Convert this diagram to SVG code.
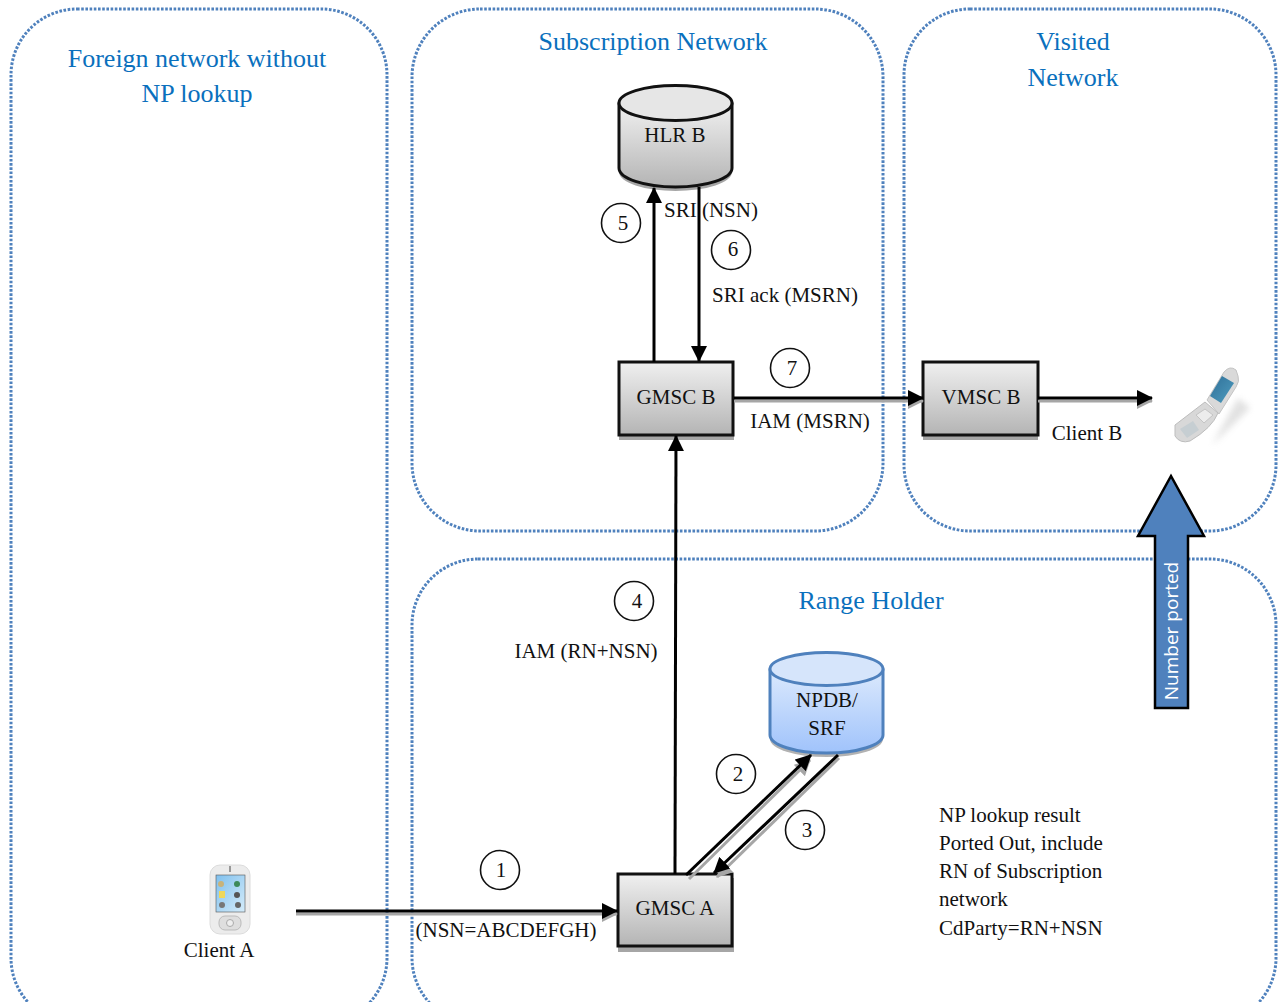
<svg xmlns="http://www.w3.org/2000/svg" width="1280" height="1002" viewBox="0 0 1280 1002">
<style>
text{font-family:"Liberation Serif","Times New Roman",serif;font-size:21px;fill:#111;text-anchor:middle}
.lbl{text-anchor:start}
.title{font-size:26px;fill:#0a70bd}
.n{font-size:21px}
.region{fill:none;stroke:#4f81bd;stroke-width:3;stroke-dasharray:2.6 1.6}
.box{fill:url(#gray);stroke:#111;stroke-width:3}
.wire{fill:none;stroke:#000;stroke-width:3}
.shade{fill:none;stroke:#a6a6a6;stroke-width:3}
.circ{fill:#fff;stroke:#111;stroke-width:1.6}
</style>
<defs>
<linearGradient id="gray" x1="0" y1="0" x2="0" y2="1"><stop offset="0" stop-color="#f0f0f0"/><stop offset="1" stop-color="#b4b4b4"/></linearGradient>
<linearGradient id="blue" x1="0" y1="0" x2="0" y2="1"><stop offset="0" stop-color="#dbe9fd"/><stop offset="1" stop-color="#a0c3fb"/></linearGradient>
<linearGradient id="sky" x1="0" y1="0" x2="1" y2="1"><stop offset="0" stop-color="#7fc0ee"/><stop offset="1" stop-color="#d5ecfa"/></linearGradient>
<linearGradient id="screen" x1="0" y1="0" x2="1" y2="1"><stop offset="0" stop-color="#2f6f98"/><stop offset="1" stop-color="#4f9dbf"/></linearGradient>
<filter id="soft" x="-30%" y="-30%" width="160%" height="160%"><feGaussianBlur stdDeviation="3"/></filter>
<marker id="ah" viewBox="0 0 16 16" markerUnits="userSpaceOnUse" markerWidth="16" markerHeight="16" refX="15" refY="8" orient="auto"><path d="M0 0L16 8L0 16Z" fill="#000"/></marker>
<marker id="as" viewBox="0 0 16 16" markerUnits="userSpaceOnUse" markerWidth="16" markerHeight="16" refX="15" refY="8" orient="auto"><path d="M0 0L16 8L0 16Z" fill="#a6a6a6"/></marker>
</defs>

<g id="regions">
<rect id="foreign" class="region" x="11" y="9" width="376" height="1015" rx="66" ry="66"/>
<rect id="subscription" class="region" x="412" y="9" width="471" height="522" rx="68" ry="68"/>
<rect id="visited" class="region" x="904" y="9" width="372" height="522" rx="66" ry="66"/>
<rect id="range" class="region" x="412" y="559" width="864" height="465" rx="66" ry="66"/>
</g>
<g id="region-labels">
<text class="title" x="197" y="67">Foreign network without</text>
<text class="title" x="197" y="102">NP lookup</text>
<text class="title" x="653" y="50">Subscription Network</text>
<text class="title" x="1073" y="50">Visited</text>
<text class="title" x="1073" y="86">Network</text>
<text class="title" x="871" y="609">Range Holder</text>
</g>

<g id="hlr">
<path d="M619 104V168A56.500 19 0 0 0 732 168V104Z" fill="#000" opacity=".35" transform="translate(0 4)"/>
<path d="M619 104V168A56.500 19 0 0 0 732 168V104Z" fill="url(#gray)" stroke="#111" stroke-width="3"/>
<ellipse cx="675.500" cy="103" rx="56.500" ry="17.500" fill="#e6e6e6" stroke="#111" stroke-width="3"/>
<text x="675" y="142">HLR B</text>
</g>
<g id="npdb">
<path d="M770 670V735A56.500 18 0 0 0 883 735V670Z" fill="#000" opacity=".3" transform="translate(0 4)"/>
<path d="M770 670V735A56.500 18 0 0 0 883 735V670Z" fill="url(#blue)" stroke="#4f81bd" stroke-width="3"/>
<ellipse cx="826.500" cy="669" rx="56.500" ry="16.500" fill="#d6e5fb" stroke="#4f81bd" stroke-width="3"/>
<text x="827" y="707">NPDB/</text>
<text x="827" y="735">SRF</text>
</g>
<g id="gmsc-b">
<rect x="619" y="366" width="115" height="74" fill="#a6a6a6"/>
<rect class="box" x="619" y="362" width="114" height="73"/>
<text x="676" y="404">GMSC B</text>
</g>
<g id="vmsc-b">
<rect x="923" y="366" width="115" height="74" fill="#a6a6a6"/>
<rect class="box" x="923" y="362" width="115" height="73"/>
<text x="981" y="404">VMSC B</text>
</g>
<g id="gmsc-a">
<rect x="618" y="878" width="116" height="74" fill="#a6a6a6"/>
<rect class="box" x="618" y="874" width="114" height="72"/>
<text x="675" y="915">GMSC A</text>
</g>

<g id="connectors">
<path class="shade" d="M296 914H617" marker-end="url(#as)"/>
<path class="wire" d="M296 911H617" marker-end="url(#ah)"/>
<path class="wire" d="M675 874L676 436" marker-end="url(#ah)"/>
<path class="shade" d="M689 879L810 760" marker-end="url(#as)"/>
<path class="wire" d="M686 875L811 755" marker-end="url(#ah)"/>
<path class="shade" d="M839 758L717 877" marker-end="url(#as)"/>
<path class="wire" d="M838 755L714 873" marker-end="url(#ah)"/>
<path class="wire" d="M654 362V188" marker-end="url(#ah)"/>
<path class="wire" d="M699 187V361" marker-end="url(#ah)"/>
<path class="shade" d="M734 401H923" marker-end="url(#as)"/>
<path class="wire" d="M734 398H923" marker-end="url(#ah)"/>
<path class="shade" d="M1038 401H1152" marker-end="url(#as)"/>
<path class="wire" d="M1038 398H1152" marker-end="url(#ah)"/>
</g>

<g id="step-1"><circle class="circ" cx="500" cy="870" r="19.500"/><text class="n" x="501" y="877">1</text></g>
<g id="step-2"><circle class="circ" cx="736" cy="774" r="19.500"/><text class="n" x="738" y="781">2</text></g>
<g id="step-3"><circle class="circ" cx="805" cy="830" r="19.500"/><text class="n" x="807" y="837">3</text></g>
<g id="step-4"><circle class="circ" cx="634" cy="601" r="19.500"/><text class="n" x="637" y="608">4</text></g>
<g id="step-5"><circle class="circ" cx="621" cy="223" r="19.500"/><text class="n" x="623" y="230">5</text></g>
<g id="step-6"><circle class="circ" cx="731" cy="250" r="19.500"/><text class="n" x="733" y="256">6</text></g>
<g id="step-7"><circle class="circ" cx="790" cy="368" r="19.500"/><text class="n" x="792" y="375">7</text></g>

<g id="labels">
<text x="506" y="937">(NSN=ABCDEFGH)</text>
<text x="586" y="658">IAM (RN+NSN)</text>
<text x="711" y="217">SRI (NSN)</text>
<text x="785" y="302">SRI ack (MSRN)</text>
<text x="810" y="428">IAM (MSRN)</text>
<text x="1087" y="440">Client B</text>
<text x="219" y="957">Client A</text>
<text class="lbl" x="939" y="822">NP lookup result</text>
<text class="lbl" x="939" y="850">Ported Out, include</text>
<text class="lbl" x="939" y="878">RN of Subscription</text>
<text class="lbl" x="939" y="906">network</text>
<text class="lbl" x="939" y="935">CdParty=RN+NSN</text>
</g>

<g id="number-ported">
<path d="M1171 476L1204 536H1188V708H1155V536H1138Z" fill="#4f81bd" stroke="#000" stroke-width="2.500" stroke-linejoin="miter"/>
<text x="0" y="0" transform="translate(1178 631) rotate(-90)" style="font-family:'Open Sans','Noto Sans',sans-serif;font-size:19px;fill:#fff">Number ported</text>
</g>

<g id="client-a">
<rect x="210" y="865" width="40" height="69" rx="10" fill="#ececec" stroke="#dcdcdc"/>
<rect x="229" y="866" width="2" height="6" fill="#999"/>
<rect x="216" y="875" width="29" height="37" fill="url(#sky)" stroke="#555" stroke-width=".6"/>
<circle cx="221" cy="884" r="3" fill="#c8b37a"/><circle cx="237" cy="884" r="3" fill="#3d8a5a"/>
<rect x="219" y="891" width="6" height="7" fill="#efd75a"/><circle cx="237" cy="895" r="3" fill="#555"/>
<circle cx="222" cy="905" r="3" fill="#777"/><circle cx="238" cy="905" r="3" fill="#666"/>
<rect x="219" y="916" width="22" height="14" rx="6" fill="#dedede" stroke="#bbb"/>
<circle cx="230" cy="923" r="3.500" fill="#eee" stroke="#aaa"/>
</g>
<g id="client-b">
<path d="M1212 445L1250 408L1238 398Z" fill="#aaa" opacity=".35" filter="url(#soft)"/>
<path d="M1207 400L1224 372Q1230 365 1236 370L1238 376Q1240 381 1236 387L1219 414Z" fill="#d9d9d9" stroke="#c4c4c4"/>
<path d="M1210 396L1222 376L1234 383L1221 403Z" fill="url(#screen)"/>
<path d="M1175 425L1205 402L1218 413Q1212 428 1190 441Q1180 444 1175 436Z" fill="#d8d8d8" stroke="#bdbdbd"/>
<path d="M1196 415L1205 409L1213 415L1204 423Z" fill="#ececec" stroke="#c4c4c4"/>
<path d="M1180 429L1193 421L1199 430L1187 438Z" fill="#c6ced2"/>
</g>
</svg>
